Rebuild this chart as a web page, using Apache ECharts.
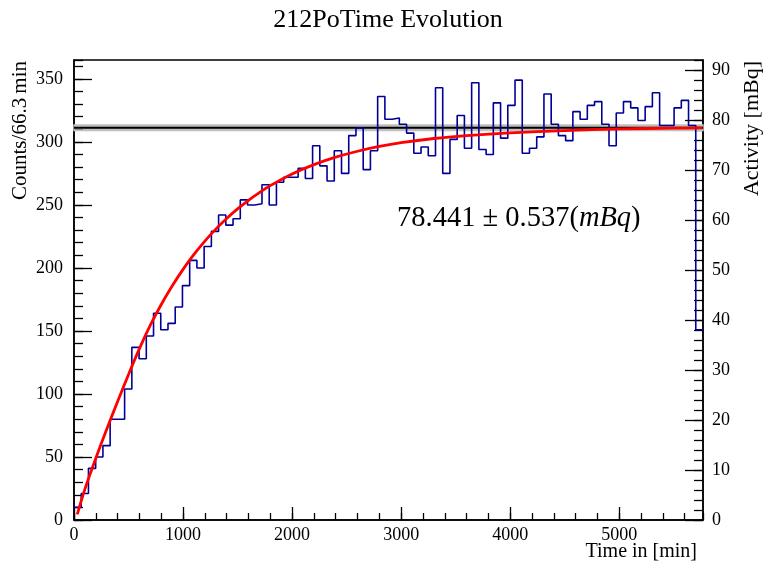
<!DOCTYPE html>
<html>
<head>
<meta charset="utf-8">
<script src="https://cdn.jsdelivr.net/npm/echarts@6/dist/echarts.min.js"></script>
<style>html,body{margin:0;padding:0;background:#fff}#c{width:765px;height:567px}</style>
</head>
<body>
<div id="c"></div>
<script>
// ---- data ----
const BIN_WIDTH = 66.3; // minutes per bin
const counts = [
  10, 21, 41, 50, 59, 80, 80, 104, 137, 128,
  146, 164, 151, 156, 169, 186, 206, 200, 217, 229,
  242, 234, 239, 254, 250, 251, 266, 250, 268, 272,
  272, 279, 271, 297, 281, 269, 293, 275, 305, 311,
  278, 293, 336, 318, 319, 314, 307, 291, 296, 289,
  343, 275, 302, 321, 295, 347, 294, 290, 331, 303,
  329, 349, 291, 295, 304, 338, 314, 305, 301, 324,
  318, 329, 332, 314, 297, 323, 332, 327, 317, 328,
  339, 313, 313, 327, 333, 313, 151
];
// points
const fitTime   = [30, 100, 200, 300, 400, 500, 600, 700, 800, 900, 1000, 1100, 1200, 1300, 1400, 1500, 1600, 1700, 1800, 2000, 2200, 2400, 2600, 2800, 3000, 3300, 3600, 4000, 4500, 5000, 5500, 5760];
const fitCounts = [4.5, 24.5, 49, 72, 94, 115.5, 136, 154.6, 171, 185.7, 198.9, 210.7, 221.3, 230.8, 239.3, 246.9, 253.7, 259.8, 265.3, 274.6, 282, 287.9, 292.6, 296.4, 299.4, 302.7, 305, 307.2, 309, 310.3, 310.9, 311.1];
const activity = 78.441;     // mBq
const activityErr = 0.537;   // mBq
const yLeftMax = 365;
const yRightMax = 92;
const xTickLabels = [0, 1000, 2000, 3000, 4000, 5000];
const yLeftTickLabels = [0, 50, 100, 150, 200, 250, 300, 350];
const yRightTickLabels = [0, 10, 20, 30, 40, 50, 60, 70, 80, 90];

const titleText = '212PoTime Evolution';
const xName = 'Time in [min]';
const yLeftName = 'Counts/66.3\u2009min';
const yRightName = 'Activity [mBq]';

// ---- build ----
const xMax = counts.length * BIN_WIDTH;
const histData = counts.map((c, i) => [i * BIN_WIDTH, c]);
histData.push([xMax, counts[counts.length - 1]]);
const fitData = fitTime.map((t, i) => [t, fitCounts[i]]);

const FONT = 'Liberation Serif';
const lbl = {color: '#000', fontFamily: FONT, fontSize: 18};
const inList = (arr) => (v) => (arr.some(a => Math.abs(a - v) < 1e-6) ? String(v) : '');
const GRID = {left: 74, right: 62, top: 60, bottom: 47};
const tickStyle = {color: '#000', width: 1.3};

const chart = echarts.init(document.getElementById('c'), null, {renderer: 'canvas'});
chart.setOption({
  animation: false,
  backgroundColor: '#fff',
  grid: [
    Object.assign({show: true, borderColor: '#000', borderWidth: 1.5, backgroundColor: 'transparent'}, GRID),
    Object.assign({show: false}, GRID)
  ],
  xAxis: [
    {gridIndex: 0, type: 'value', min: 0, max: xMax, interval: 1000, position: 'bottom',
     axisLine: {show: true, lineStyle: {color: '#000', width: 1.5}},
     axisTick: {show: true, inside: true, length: 13, lineStyle: tickStyle},
     axisLabel: Object.assign({margin: 6, formatter: inList(xTickLabels), showMaxLabel: false}, lbl),
     splitLine: {show: false}},
    {gridIndex: 1, type: 'value', min: 0, max: xMax, interval: 200, position: 'bottom',
     axisLine: {show: false},
     axisTick: {show: true, inside: true, length: 7, lineStyle: tickStyle},
     axisLabel: {show: false}, splitLine: {show: false}}
  ],
  yAxis: [
    {gridIndex: 0, type: 'value', min: 0, max: yLeftMax, interval: 50, position: 'left',
     axisLine: {show: true, lineStyle: {color: '#000', width: 1.5}},
     axisTick: {show: true, inside: true, length: 18, lineStyle: tickStyle},
     axisLabel: Object.assign({margin: 11, formatter: inList(yLeftTickLabels), showMaxLabel: false}, lbl),
     splitLine: {show: false}},
    {gridIndex: 0, type: 'value', min: 0, max: yRightMax, interval: 10, position: 'right',
     axisLine: {show: true, lineStyle: {color: '#000', width: 1.5}},
     axisTick: {show: true, inside: true, length: 18, lineStyle: tickStyle},
     axisLabel: Object.assign({margin: 9, formatter: inList(yRightTickLabels), showMaxLabel: false}, lbl),
     splitLine: {show: false}},
    {gridIndex: 1, type: 'value', min: 0, max: yLeftMax, interval: 10, position: 'left',
     axisLine: {show: false},
     axisTick: {show: true, inside: true, length: 9, lineStyle: tickStyle},
     axisLabel: {show: false}, splitLine: {show: false}},
    {gridIndex: 1, type: 'value', min: 0, max: yRightMax, interval: 2, position: 'right',
     axisLine: {show: false},
     axisTick: {show: true, inside: true, length: 9, lineStyle: tickStyle},
     axisLabel: {show: false}, splitLine: {show: false}}
  ],
  series: [
    {type: 'line', xAxisIndex: 0, yAxisIndex: 1, z: 1,
     data: [[0, activity], [xMax, activity]],
     symbol: 'none', lineStyle: {color: '#000', width: 2},
     markArea: {silent: true,
       itemStyle: {color: 'rgba(170,170,170,0.75)', borderColor: '#c0c0c0', borderWidth: 1.5},
       data: [[{yAxis: activity - activityErr}, {yAxis: activity + activityErr}]]}
    },
    {type: 'line', xAxisIndex: 0, yAxisIndex: 0, z: 2,
     data: histData, step: 'end', symbol: 'none',
     lineStyle: {color: '#000099', width: 1.6}},
    {type: 'line', xAxisIndex: 0, yAxisIndex: 0, z: 3,
     data: fitData, smooth: 0.3, symbol: 'none',
     lineStyle: {color: '#ff0000', width: 2.8}}
  ],
  graphic: [
    {type: 'text', x: 388, y: 20, style: {text: titleText, fontFamily: FONT, fontSize: 26, fill: '#000', textAlign: 'center', textVerticalAlign: 'middle'}},
    {type: 'text', x: 697, y: 552, style: {text: xName, fontFamily: FONT, fontSize: 20, fill: '#000', textAlign: 'right', textVerticalAlign: 'middle'}},
    {type: 'text', x: 20, y: 61, rotation: Math.PI / 2, style: {text: yLeftName, fontFamily: FONT, fontSize: 21, fill: '#000', textAlign: 'right', textVerticalAlign: 'middle'}},
    {type: 'text', x: 752, y: 61, rotation: Math.PI / 2, style: {text: yRightName, fontFamily: FONT, fontSize: 22, fill: '#000', textAlign: 'right', textVerticalAlign: 'middle'}},
    {type: 'text', x: 397, y: 219, style: {
      text: '{a|' + activity.toFixed(3) + ' \u00b1 ' + activityErr.toFixed(3) + '(}{b|mBq}{a|)}',
      textAlign: 'left', textVerticalAlign: 'middle',
      rich: {a: {fontFamily: FONT, fontSize: 28.5, fill: '#000', color: '#000'},
             b: {fontFamily: FONT, fontSize: 28.5, fontStyle: 'italic', fill: '#000', color: '#000'}}}}
  ]
});
</script>
</body>
</html>
